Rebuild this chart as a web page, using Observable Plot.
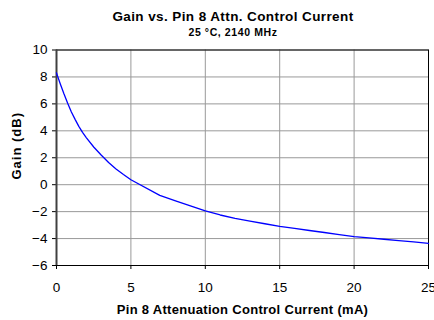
<!DOCTYPE html>
<html>
<head>
<meta charset="utf-8">
<script src="https://cdn.jsdelivr.net/npm/d3@7"></script>
<script src="https://cdn.jsdelivr.net/npm/@observablehq/plot@0.6"></script>
<style>
  html, body { margin: 0; padding: 0; background: #fff; }
  #wrap { width: 434px; height: 320px; font-family: Arial, "Liberation Sans", sans-serif; color: #000; }
  .title { box-sizing: border-box; width: 434px; padding-left: 32px; text-align: center; font-weight: bold; white-space: nowrap; }
  #t1 { margin-top: 9px; height: 15px; line-height: 15px; font-size: 13.5px; letter-spacing: 0.4px; }
  #t2 { margin-top: 3px; height: 11px; line-height: 11px; font-size: 10.5px; letter-spacing: 0.6px; }
  svg { display: block; }
</style>
</head>
<body>
<div id="wrap">
  <div class="title" id="t1">Gain vs. Pin 8 Attn. Control Current</div>
  <div class="title" id="t2">25 °C, 2140 MHz</div>
  <div id="chart"></div>
</div>
<script>
const titleText = "Gain vs. Pin 8 Attn. Control Current";
const subtitleText = "25 °C, 2140 MHz";
const xLabel = "Pin 8 Attenuation Control Current (mA)";
const yLabel = "Gain (dB)";

const current = [0, 0.25, 0.5, 0.75, 1, 1.25, 1.5, 1.75, 2, 2.5, 3, 3.5, 4, 4.5, 5, 6.94, 8, 9, 10, 11, 12, 13, 14, 15, 16, 17, 18, 19, 20, 21, 22, 23, 24, 25];
const gain = [8.3, 7.5, 6.75, 6.05, 5.4, 4.85, 4.33, 3.89, 3.5, 2.8, 2.2, 1.65, 1.17, 0.76, 0.37, -0.79, -1.2, -1.58, -1.95, -2.25, -2.5, -2.7, -2.9, -3.1, -3.25, -3.4, -3.55, -3.7, -3.85, -3.95, -4.05, -4.15, -4.25, -4.35];

const xTicks = [0, 5, 10, 15, 20, 25];
const yTicks = [-6, -4, -2, 0, 2, 4, 6, 8, 10];

const data = current.map((c, i) => ({current: c, gain: gain[i]}));

const chart = Plot.plot({
  width: 434,
  height: 282,
  marginTop: 11.5,
  marginBottom: 55,
  marginLeft: 56,
  marginRight: 6,
  style: {fontFamily: "Arial, 'Liberation Sans', sans-serif", fontSize: "13px", color: "#000", background: "#fff", overflow: "visible"},
  x: {domain: [0, 25]},
  y: {domain: [-6, 10]},
  marks: [
    Plot.gridX(xTicks, {stroke: "#999", strokeOpacity: 1, strokeWidth: 1}),
    Plot.gridY(yTicks, {stroke: "#999", strokeOpacity: 1, strokeWidth: 1}),
    Plot.frame({stroke: "#000", strokeWidth: 1}),
    Plot.axisX({ticks: xTicks, tickSize: 4, tickPadding: 13, label: null, stroke: "#000", fontSize: 13.5}),
    Plot.axisY({ticks: yTicks, tickSize: 4, tickPadding: 5, label: null, stroke: "#000", fontSize: 13.5}),
    Plot.ruleX([0], {stroke: "#404040", strokeWidth: 2}),
    Plot.line(data, {x: "current", y: "gain", stroke: "#0000ff", strokeWidth: 1.3}),
    Plot.text([xLabel], {frameAnchor: "bottom", dy: 44.5, text: d => d, fontWeight: "bold", fontSize: 13, lineAnchor: "middle", textAnchor: "middle", fill: "#000"}),
    Plot.text([yLabel], {frameAnchor: "left", dx: -40, dy: -12, rotate: -90, text: d => d, fontWeight: "bold", fontSize: 13, lineAnchor: "middle", textAnchor: "middle", fill: "#000"})
  ]
});
chart.querySelectorAll("text").forEach(t => {
  if (t.textContent === xLabel) t.style.letterSpacing = "0.3px";
  if (t.textContent === yLabel) t.style.letterSpacing = "1px";
});
document.getElementById("chart").appendChild(chart);
</script>
</body>
</html>
